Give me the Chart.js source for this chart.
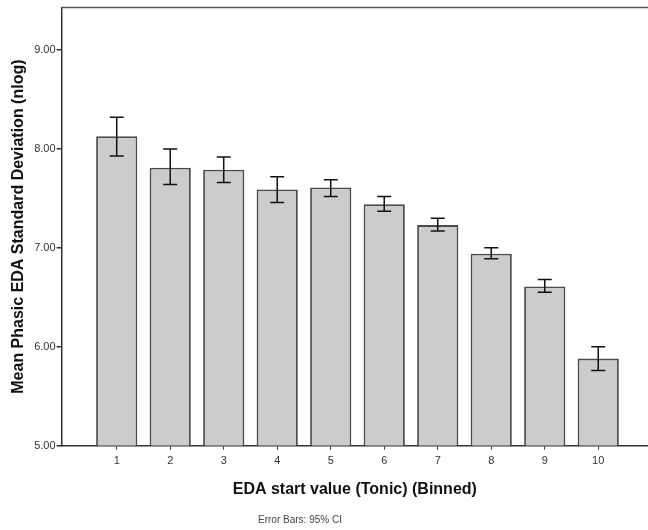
<!DOCTYPE html>
<html>
<head>
<meta charset="utf-8">
<script src="https://cdn.jsdelivr.net/npm/chart.js@4.4.0/dist/chart.umd.min.js"></script>
<style>
  html, body { margin: 0; padding: 0; background: #fff; overflow: hidden; }
</style>
</head>
<body>
<canvas id="chart" width="648" height="530"></canvas>
<script>
const bins = [1, 2, 3, 4, 5, 6, 7, 8, 9, 10];
const means = [8.13, 7.81, 7.79, 7.59, 7.61, 7.44, 7.23, 6.94, 6.61, 5.88];
const ciLow = [7.93, 7.64, 7.66, 7.46, 7.52, 7.37, 7.17, 6.89, 6.55, 5.76];
const ciHigh = [8.32, 8.00, 7.92, 7.72, 7.69, 7.52, 7.30, 7.00, 6.68, 6.00];
const yTicks = [5, 6, 7, 8, 9];
const footnote = 'Error Bars: 95% CI';

const errorBars = {
    id: 'errorBars',
    afterDatasetsDraw(chart) {
        const ctx = chart.ctx;
        const x = chart.scales.x;
        const y = chart.scales.y;
        ctx.save();
        ctx.strokeStyle = '#111';
        ctx.lineWidth = 1.5;
        bins.forEach((b, i) => {
            const px = x.getPixelForValue(b);
            const top = y.getPixelForValue(ciHigh[i]);
            const bot = y.getPixelForValue(ciLow[i]);
            ctx.beginPath();
            ctx.moveTo(px, top); ctx.lineTo(px, bot);
            ctx.moveTo(px - 7, top); ctx.lineTo(px + 7, top);
            ctx.moveTo(px - 7, bot); ctx.lineTo(px + 7, bot);
            ctx.stroke();
        });
        // top frame line
        const a = chart.chartArea;
        ctx.strokeStyle = '#555';
        ctx.lineWidth = 1.5;
        ctx.beginPath();
        ctx.moveTo(a.left, a.top); ctx.lineTo(chart.width, a.top);
        ctx.stroke();
        // footnote
        ctx.fillStyle = '#444';
        ctx.font = '10px "Liberation Sans", Arial, sans-serif';
        ctx.textAlign = 'center';
        ctx.textBaseline = 'middle';
        ctx.fillText(footnote, 300, 520);
        ctx.restore();
    }
};

new Chart(document.getElementById('chart'), {
    type: 'bar',
    data: {
        datasets: [{
            data: bins.map((b, i) => ({ x: b, y: means[i] })),
            backgroundColor: '#cccccc',
            borderColor: '#4a4a4a',
            borderWidth: 1.8,
            barPercentage: 0.77,
            categoryPercentage: 1.0
        }]
    },
    options: {
        responsive: false,
        animation: false,
        layout: { padding: { left: 9, right: 0, top: 1, bottom: 31 } },
        plugins: {
            legend: { display: false },
            tooltip: { enabled: false }
        },
        scales: {
            x: {
                type: 'linear',
                offset: false,
                min: -0.03,
                max: 10.93,
                afterBuildTicks(axis) { axis.ticks = bins.map(v => ({ value: v })); },
                grid: { offset: false, drawOnChartArea: false, tickLength: 4, color: '#333' },
                border: { color: '#333', width: 1.5 },
                ticks: {
                    color: '#333',
                    padding: 5,
                    font: { family: 'Liberation Sans, Arial, sans-serif', size: 11 }
                },
                title: {
                    display: true,
                    text: 'EDA start value (Tonic) (Binned)',
                    color: '#111',
                    font: { family: 'Liberation Sans, Arial, sans-serif', size: 16, weight: 'bold' },
                    padding: { top: 7, bottom: 0 }
                }
            },
            y: {
                min: 5,
                max: 9.43,
                afterBuildTicks(axis) { axis.ticks = yTicks.map(v => ({ value: v })); },
                grid: { drawOnChartArea: false, tickLength: 5, color: '#333', lineWidth: 1.5 },
                border: { color: '#333', width: 1.5 },
                ticks: {
                    color: '#333',
                    padding: 1,
                    font: { family: 'Liberation Sans, Arial, sans-serif', size: 11 },
                    callback: v => Number(v).toFixed(2)
                },
                title: {
                    display: true,
                    text: 'Mean Phasic EDA Standard Deviation (nlog)',
                    color: '#111',
                    font: { family: 'Liberation Sans, Arial, sans-serif', size: 16, weight: 'bold' },
                    padding: { top: 0, bottom: 5 }
                }
            }
        }
    },
    plugins: [errorBars]
});
</script>
</body>
</html>
